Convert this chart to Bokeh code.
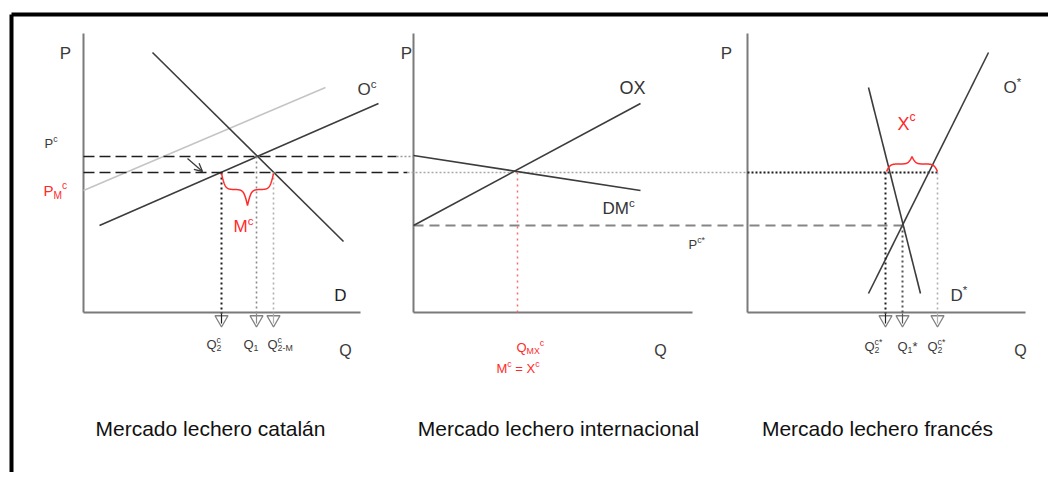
import numpy as np
from bokeh.plotting import figure
from bokeh.models import Range1d, Arrow, OpenHead
from bokeh.embed import file_html
from bokeh.resources import INLINE
from bokeh.core.properties import value

FONT = "Liberation Sans"

# ---------------- data (diagram units: Q along each panel, P above Q axis) ---------
ORIGIN = {"cat": 83, "int": 413, "fr": 747}     # where each panel's Q axis starts
AXIS_TOP = 279
AXIS_LEN = {"cat": 277, "int": 279, "fr": 278}

# shared price levels
P_C = 156        # Pc
P_MC = 140       # P_M^c  (= world price after trade)
P_CSTAR = 87     # Pc*

# Catalan market
d_cat_q = [69, 260];  d_cat_p = [260, 71]        # demand D
o_cat_q = [16, 295];  o_cat_p = [87, 209]        # supply O^c
o2_cat_q = [0, 242];  o2_cat_p = [122, 225]      # light supply line
q_cat = {"Q2c": 138, "Q1": 173, "Q2M": 190}

# International market
ox_q = [0, 227];  ox_p = [87, 209]               # export supply OX
dm_q = [0, 227];  dm_p = [157, 122]              # import demand DM^c
q_mx = 104

# French market
d_fr_q = [121, 173];  d_fr_p = [225, 19]          # D*
o_fr_q = [241, 121];  o_fr_p = [260, 19]          # O*
q_fr = {"Q2c*a": 138, "Q1*": 155, "Q2c*b": 190}

TITLES = ["Mercado lechero catalán", "Mercado lechero internacional", "Mercado lechero francés"]

# ---------------------------------------------------------------------------------
p = figure(width=1048, height=472, output_backend="svg", toolbar_location=None,
           x_range=Range1d(0, 1048), y_range=Range1d(-160, 312),
           x_axis_location=None, y_axis_location=None, min_border=0)
p.grid.visible = False
p.outline_line_color = None
p.background_fill_color = "white"
p.border_fill_color = "white"


def X(panel, q):
    return [ORIGIN[panel] + v for v in q]


# frame (top and left)
p.line([11, 1048], [298, 298], line_color="black", line_width=4)
p.line([11, 11], [298, -160], line_color="black", line_width=4)

AX = "#7a7a7a"
for k in ORIGIN:
    o = ORIGIN[k]
    p.line([o, o], [0, AXIS_TOP], line_color=AX, line_width=2)
    p.line([o, o + AXIS_LEN[k]], [0, 0], line_color=AX, line_width=2)

DARK = "#3c3c3c"
RED = "#ff2a2a"

# ---- panel 1 curves
p.line(X("cat", o2_cat_q), o2_cat_p, line_color="#c4c4c4", line_width=1.5)
p.line(X("cat", d_cat_q), d_cat_p, line_color=DARK, line_width=1.6)
p.line(X("cat", o_cat_q), o_cat_p, line_color=DARK, line_width=1.6)

# horizontal price lines
p.line([ORIGIN["cat"], 396], [P_C, P_C], line_color="#1e1e1e", line_width=1.6, line_dash="11 5")
p.line([396, ORIGIN["int"]], [P_C, P_C], line_color="#9a9a9a", line_width=1.5, line_dash="2 2")
p.line([ORIGIN["cat"], 407], [P_MC, P_MC], line_color="#1e1e1e", line_width=1.6, line_dash="11 5")
p.line([407, ORIGIN["fr"]], [P_MC, P_MC], line_color="#a8a8a8", line_width=1.5, line_dash="2 2")
p.line([ORIGIN["fr"], ORIGIN["fr"] + q_fr["Q2c*b"]], [P_MC, P_MC], line_color="#1e1e1e",
       line_width=2, line_dash="2 2")
p.line([ORIGIN["int"], ORIGIN["fr"] + q_fr["Q1*"]], [P_CSTAR, P_CSTAR], line_color="#858585",
       line_width=2, line_dash="10 6")

# arrow from Pc down to P_M^c
p.add_layout(Arrow(end=OpenHead(size=8, line_color=DARK, line_width=1.3),
                   x_start=187, y_start=154, x_end=202, y_end=P_MC + 1,
                   line_color=DARK, line_width=1.3))

# ---- panel 2 curves
p.line(X("int", ox_q), ox_p, line_color=DARK, line_width=1.6)
p.line(X("int", dm_q), dm_p, line_color=DARK, line_width=1.6)
xm = ORIGIN["int"] + q_mx
p.line([xm, xm], [P_MC, 0], line_color="#ff6a6a", line_width=1.5, line_dash="2 4")

# ---- panel 3 curves
p.line(X("fr", d_fr_q), d_fr_p, line_color=DARK, line_width=1.6)
p.line(X("fr", o_fr_q), o_fr_p, line_color=DARK, line_width=1.6)

# ---- vertical drop lines and arrowheads
drops = [
    (ORIGIN["cat"] + q_cat["Q2c"], P_MC, "#1e1e1e", 2.0),
    (ORIGIN["cat"] + q_cat["Q1"], P_C, "#8a8a8a", 1.6),
    (ORIGIN["cat"] + q_cat["Q2M"], P_MC, "#b0b0b0", 1.6),
    (ORIGIN["fr"] + q_fr["Q2c*a"], P_MC, "#1e1e1e", 2.0),
    (ORIGIN["fr"] + q_fr["Q1*"], P_CSTAR, "#555555", 2.0),
    (ORIGIN["fr"] + q_fr["Q2c*b"], P_MC, "#b0b0b0", 1.6),
]
for x, top, col, w in drops:
    p.line([x, x], [top, -1], line_color=col, line_width=w, line_dash="2 3")
p.scatter([d[0] for d in drops], [-7] * len(drops), marker="inverted_triangle", size=13,
          fill_color="white", line_color="#808080", line_width=1.3)
for x, top, col, w in drops:
    p.line([x, x], [-1, -11], line_color=col, line_width=1.2)


# ---- braces
def brace(x1, x2, p0, depth):
    half = (x2 - x1) / 2.0
    t = np.linspace(0, half, 80)
    beta = 14.0 / half
    v = 1 / (1 + np.exp(-beta * t)) + 1 / (1 + np.exp(-beta * (t - half))) - 0.5
    xs = np.concatenate([x1 + t, x2 - t[::-1]])
    vs = np.concatenate([v, v[::-1]])
    return xs, p0 + depth * vs


bx, by = brace(ORIGIN["cat"] + q_cat["Q2c"], ORIGIN["cat"] + q_cat["Q2M"], P_MC - 1, -32)
p.line(bx, by, line_color=RED, line_width=1.5)
bx, by = brace(ORIGIN["fr"] + q_fr["Q2c*a"] + 1, ORIGIN["fr"] + q_fr["Q2c*b"], P_MC + 1, 15)
p.line(bx, by, line_color=RED, line_width=1.5)

# ---- text helpers
W = {'P': 667, 'Q': 778, 'M': 833, 'X': 667, 'O': 778, 'D': 722, 'c': 500, '1': 556,
     '2': 556, '*': 389, '-': 333, '=': 584, ' ': 278}


def tw(s, size):
    return sum(W.get(ch, 556) for ch in s) * size / 1000.0


def rich(x, y, parts, color, size, sub_scale=0.68):
    cx = x
    sup_start = None
    sup_w = 0
    prev = None
    for text, kind in parts:
        if kind == "gap":
            cx += tw(" ", size)
            prev = kind
            continue
        if kind == "n":
            fs, dy = size, 0
        elif kind == "sup":
            fs, dy = size * sub_scale, size * 0.36
        else:
            fs, dy = size * sub_scale, -size * 0.3
        start = cx
        if kind == "sub" and prev == "sup":
            start = sup_start
        p.text(x=[start], y=[y + dy], text=[text], text_font=value(FONT),
               text_font_size=f"{fs:.1f}px", text_color=color,
               text_align="left", text_baseline="middle")
        w = tw(text, fs)
        if kind == "sup":
            sup_start, sup_w = start, w
            cx = start + w
        elif kind == "sub" and prev == "sup":
            cx = start + max(w, sup_w)
        else:
            cx = start + w
        prev = kind


def plain(x, y, text, color, size, align="center"):
    p.text(x=[x], y=[y], text=[text], text_font=value(FONT), text_font_size=f"{size}px",
           text_color=color, text_align=align, text_baseline="middle")


LBL = "#3a3a3a"
Y = lambda ypx: 312 - ypx

# panel 1 labels
plain(65, Y(53), "P", LBL, 17)
rich(44, Y(143), [("P", "n"), ("c", "sup")], LBL, 13)
rich(43, Y(190), [("P", "n"), ("M", "sub"), ("c", "sup")], RED, 15)
rich(357, Y(89), [("O", "n"), ("c", "sup")], LBL, 17)
plain(340, Y(295), "D", "#222222", 17)
plain(345, Y(350), "Q", LBL, 16)
rich(233, Y(226), [("M", "n"), ("c", "sup")], RED, 17)
rich(206, Y(344), [("Q", "n"), ("c", "sup"), ("2", "sub")], LBL, 13)
rich(243, Y(344), [("Q", "n"), ("1", "sub")], LBL, 13)
rich(267, Y(344), [("Q", "n"), ("c", "sup"), ("2-M", "sub")], LBL, 13)

# panel 2 labels
plain(406, Y(53), "P", LBL, 17)
plain(632, Y(87), "OX", "#333333", 18)
rich(602, Y(208), [("DM", "n"), ("c", "sup")], "#333333", 17)
rich(688, Y(244), [("P", "n"), ("c*", "sup")], LBL, 13)
rich(516, Y(347), [("Q", "n"), ("MX", "sub"), ("c", "sup")], RED, 13)
rich(496, Y(368), [("M", "n"), ("c", "sup"), ("", "gap"), ("=", "n"), ("", "gap"),
                   ("X", "n"), ("c", "sup")], RED, 13)
plain(660, Y(350), "Q", LBL, 16)

# panel 3 labels
plain(726, Y(53), "P", LBL, 17)
rich(1003, Y(87), [("O", "n"), ("*", "sup")], LBL, 17)
rich(897, Y(123), [("X", "n"), ("c", "sup")], RED, 18)
rich(950, Y(295), [("D", "n"), ("*", "sup")], LBL, 17)
plain(1020, Y(350), "Q", LBL, 16)
rich(864, Y(346), [("Q", "n"), ("c*", "sup"), ("2", "sub")], LBL, 13)
rich(897, Y(346), [("Q", "n"), ("1", "sub"), ("*", "n")], LBL, 13)
rich(927, Y(346), [("Q", "n"), ("c*", "sup"), ("2", "sub")], LBL, 13)

# titles
for cx, t in zip([210, 558, 877], TITLES):
    plain(cx, Y(428), t, "#111111", 21)

open("out.html", "w").write(file_html(p, INLINE))
